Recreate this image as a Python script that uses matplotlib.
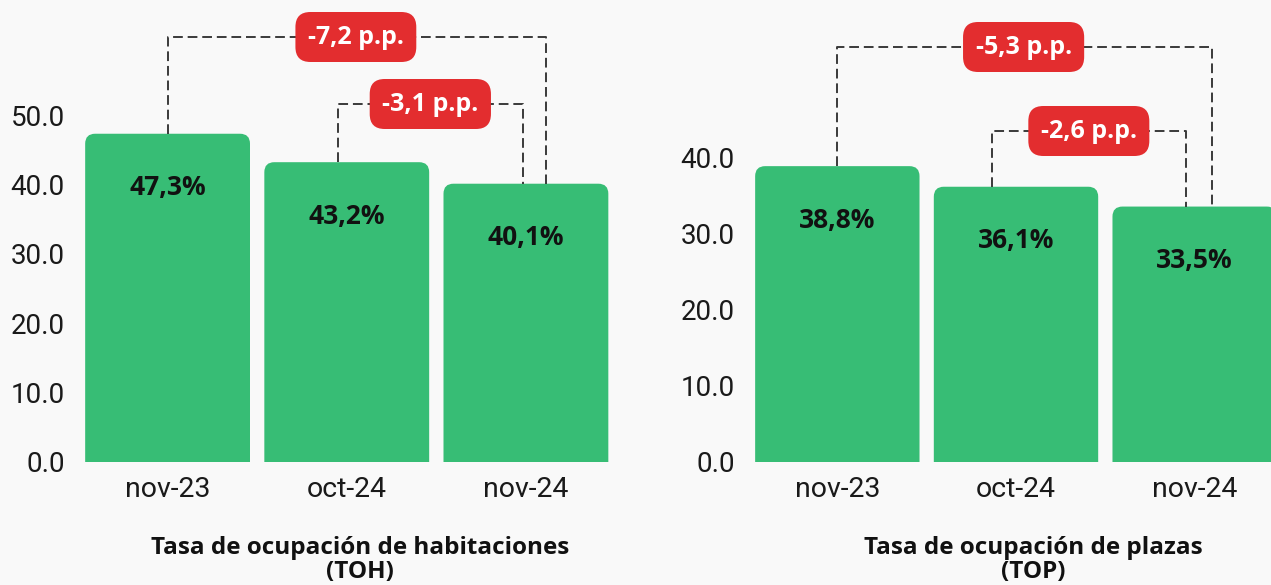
import matplotlib
matplotlib.use("Agg")
import matplotlib.pyplot as plt
from matplotlib.patches import PathPatch
from matplotlib.path import Path

# ---- data ----
categories = ["nov-23", "oct-24", "nov-24"]
toh_values = [47.3, 43.2, 40.1]
top_values = [38.8, 36.1, 33.5]
toh_labels = ["47,3%", "43,2%", "40,1%"]
top_labels = ["38,8%", "36,1%", "33,5%"]
toh_diffs = ["-7,2 p.p.", "-3,1 p.p."]
top_diffs = ["-5,3 p.p.", "-2,6 p.p."]
toh_yticks = [0, 10, 20, 30, 40, 50]
top_yticks = [0, 10, 20, 30, 40]
toh_title = "Tasa de ocupación de habitaciones\n(TOH)"
top_title = "Tasa de ocupación de plazas\n(TOP)"

# ---- style ----
GREEN = "#37bd75"
RED = "#e32d2f"
BG = "#f9f9f9"
W, H = 1271, 585
DPI = 100

fig = plt.figure(figsize=(W / DPI, H / DPI), dpi=DPI, facecolor=BG)

def px_axes(left, right, bottom_px, top_px=0):
    return [left / W, (H - bottom_px) / H, (right - left) / W, (bottom_px - top_px) / H]

def rounded_top_path(x0, y0, w, h, rx, ry):
    x1, y1 = x0 + w, y0 + h
    verts = [(x0, y0), (x0, y1 - ry), (x0, y1), (x0 + rx, y1),
             (x1 - rx, y1), (x1, y1), (x1, y1 - ry), (x1, y0), (x0, y0)]
    codes = [Path.MOVETO, Path.LINETO, Path.CURVE3, Path.CURVE3,
             Path.LINETO, Path.CURVE3, Path.CURVE3, Path.LINETO, Path.CLOSEPOLY]
    return Path(verts, codes)

def panel(rect, values, labels, diffs, yticks, ymax, title, title_x,
          big_level, small_level, big_right_dx, small_left_dx, small_right_dx, label_off):
    ax = fig.add_axes(rect)
    ax.set_facecolor("none")
    x = list(range(len(values)))
    bars = ax.bar(x, values, width=0.92, color=GREEN)
    ax.set_xlim(-0.5, len(values) - 0.5)
    ax.set_ylim(0, ymax)
    for s in ax.spines.values():
        s.set_visible(False)
    ax.set_yticks(yticks)
    ax.set_yticklabels([f"{v:.1f}" for v in yticks], fontsize=20, family="Roboto",
                       color="#1a1a1a")
    ax.set_xticks(x)
    ax.set_xticklabels(categories, fontsize=20.5, family="Roboto", color="#1a1a1a")
    ax.tick_params(length=0)
    ax.tick_params(axis="y", pad=9.5)
    ax.tick_params(axis="x", pad=10)

    axw = rect[2] * W
    axh = rect[3] * H
    ppx = axw / len(values)
    ppy = axh / ymax
    r = 10
    for b in bars:
        bx, by, bw, bh = b.get_x(), b.get_y(), b.get_width(), b.get_height()
        b.set_visible(False)
        ax.add_patch(PathPatch(rounded_top_path(bx, by, bw, bh, r / ppx, r / ppy),
                               fc=GREEN, ec="none"))

    for xi, v, lab in zip(x, values, labels):
        ax.text(xi, v - label_off / ppy, lab, ha="center", va="center",
                fontsize=19, fontweight="bold", family="Open Sans", color="#111111")

    dash = dict(color="#3a3a3a", lw=1.4, ls=(0, (5, 2.5)), zorder=1)
    xl, xr = x[0], x[-1] + big_right_dx / ppx
    ax.plot([xl, xl, xr, xr], [values[0], big_level, big_level, values[-1]], **dash)
    sl, sr = x[1] + small_left_dx / ppx, x[-1] + small_right_dx / ppx
    ax.plot([sl, sl, sr, sr], [values[1], small_level, small_level, values[-1]], **dash)

    bbox = dict(boxstyle="round,pad=0.5,rounding_size=0.6", fc=RED, ec="none")
    ax.text((xl + xr) / 2 - 0.005, big_level, diffs[0], ha="center", va="center",
            fontsize=18, fontweight="bold", family="Open Sans", color="white", bbox=bbox, zorder=5)
    ax.text((sl + sr) / 2, small_level, diffs[1], ha="center", va="center",
            fontsize=18, fontweight="bold", family="Open Sans", color="white", bbox=bbox, zorder=5)

    fig.text(title_x / W, 1 - 560 / H, title, ha="center", va="center",
             fontsize=17.5, fontweight="bold", family="Open Sans", color="#111111",
             linespacing=1.05)
    return ax

panel(px_axes(78, 615.5, 462), toh_values, toh_labels, toh_diffs, toh_yticks,
      462 / 6.94, toh_title, 360, (462 - 37) / 6.94, (462 - 104) / 6.94,
      20, -9, -3, 54)
panel(px_axes(748, 1284, 462), top_values, top_labels, top_diffs, top_yticks,
      462 / 7.625, top_title, 1033, (462 - 47) / 7.625, (462 - 131) / 7.625,
      17, -24, -9, 54)

fig.savefig("out.png", dpi=DPI, facecolor=BG)
